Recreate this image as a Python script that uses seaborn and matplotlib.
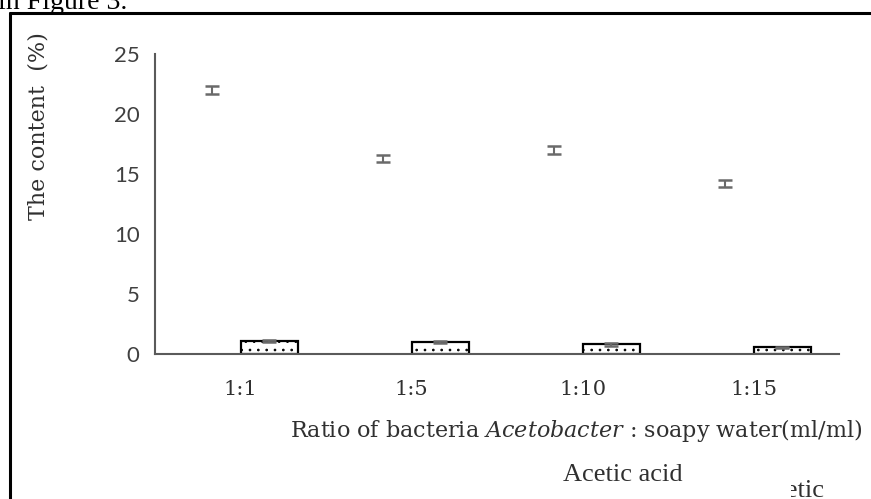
import matplotlib
matplotlib.use("Agg")
import matplotlib.pyplot as plt
import seaborn as sns
import numpy as np
import pandas as pd
from matplotlib.lines import Line2D
from matplotlib.patches import Rectangle

# data
ratios = ["1:1", "1:5", "1:10", "1:15"]
series_a = [22.0, 16.3, 17.0, 14.2]      # invisible bars, only error bars shown
series_a_err = [0.3, 0.3, 0.3, 0.3]
series_b = [1.1, 1.0, 0.8, 0.55]         # dotted bars
series_b_err = [0.1, 0.08, 0.1, 0.06]
yticks = [0, 5, 10, 15, 20, 25]

df = pd.DataFrame({
    "ratio": ratios * 2,
    "value": series_a + series_b,
    "series": ["a"] * 4 + ["b"] * 4,
})

sns.set_style("white")
plt.rcParams["hatch.linewidth"] = 0.7
plt.rcParams["mathtext.fontset"] = "custom"
plt.rcParams["mathtext.rm"] = "DejaVu Serif"
plt.rcParams["mathtext.it"] = "DejaVu Serif:italic"

W, H = 871, 499
fig = plt.figure(figsize=(W / 100, H / 100), dpi=100)
ax = fig.add_axes([155 / W, 1 - 354 / H, (839 - 155) / W, 300 / H])

sns.barplot(data=df, x="ratio", y="value", hue="series", errorbar=None,
            width=0.667, ax=ax, legend=False)

errs = [series_a_err, series_b_err]
bar_conts = list(ax.containers)
for i, cont in enumerate(bar_conts):
    xs = [p.get_x() + p.get_width() / 2 for p in cont]
    hs = [p.get_height() for p in cont]
    for p in cont:
        if i == 0:
            p.set_facecolor("none")
            p.set_edgecolor("none")
        else:
            p.set_facecolor("white")
            p.set_edgecolor("black")
            p.set_linewidth(1.6)
            p.set_hatch("..")
    ax.errorbar(xs, hs, yerr=errs[i], fmt="none", ecolor="#6a6a6a",
                elinewidth=1.5, capsize=5, capthick=1.8, zorder=5)

ax.set_ylim(0, 25)
ax.set_xlim(-0.5, 3.5)
ax.set_yticks(yticks)
ax.set_xlabel("")
ax.set_ylabel("")
ax.tick_params(length=0)
ax.tick_params(axis="y", pad=11)
ax.tick_params(axis="x", pad=19)
for lab in ax.get_yticklabels():
    lab.set_family("Lato")
    lab.set_fontsize(16)
    lab.set_color("#404040")
for lab in ax.get_xticklabels():
    lab.set_family("DejaVu Serif")
    lab.set_fontsize(15)
    lab.set_color("#303030")
for s in ["top", "right"]:
    ax.spines[s].set_visible(False)
for s in ["left", "bottom"]:
    ax.spines[s].set_color("#5a5a5a")
    ax.spines[s].set_linewidth(1.5)

# labels
fig.text(38 / W, 1 - 126 / H, "The content  (%)", rotation=90, ha="center",
         va="center", family="DejaVu Serif", fontsize=16, color="#303030")
fig.text(290 / W, 1 - 437 / H,
         r"Ratio of bacteria $\mathit{Acetobacter}$ : soapy water(ml/ml)",
         ha="left", va="baseline", family="DejaVu Serif", fontsize=16,
         color="#303030")
fig.text(623 / W, 1 - 481 / H, "Acetic acid", ha="center", va="baseline",
         family="Liberation Serif", fontsize=19, color="#303030")
t = fig.text(756 / W, 1 - 497 / H, "Acetic", ha="left", va="baseline",
             family="Liberation Serif", fontsize=19, color="#303030")
clip = Rectangle((791 / W, 0), 1, 1, transform=fig.transFigure,
                 facecolor="none", edgecolor="none")
t.set_clip_path(clip)

# clipped caption above the frame
fig.text(-2 / W, 1 - 9 / H, "in Figure 3.", ha="left", va="baseline",
         family="Liberation Serif", fontsize=20, color="black")

# page frame around the figure
fig.add_artist(Line2D([10 / W, 1.0], [1 - 13 / H, 1 - 13 / H],
                      transform=fig.transFigure, color="black", lw=2.2))
fig.add_artist(Line2D([10 / W, 10 / W], [0, 1 - 13 / H],
                      transform=fig.transFigure, color="black", lw=2.2))

fig.savefig("out.png", dpi=100)
